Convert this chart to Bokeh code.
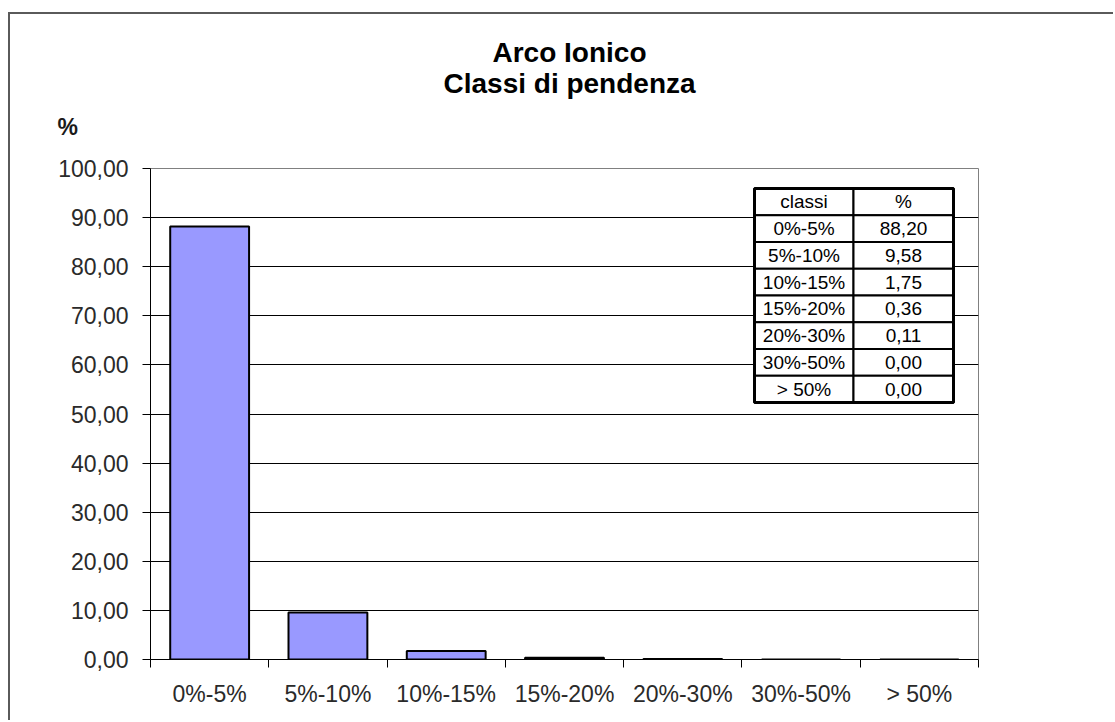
import numpy as np
from bokeh.plotting import figure
from bokeh.models import (Range1d, LinearAxis, FixedTicker, CustomJSTickFormatter,
                          Title, ColumnDataSource, Grid)
from bokeh.core.properties import value
from bokeh.embed import file_html
from bokeh.resources import INLINE

# ---- data ----
classes = ["0%-5%", "5%-10%", "10%-15%", "15%-20%", "20%-30%", "30%-50%", "> 50%"]
percent = [88.20, 9.58, 1.75, 0.36, 0.11, 0.00, 0.00]
title_lines = ["Arco Ionico", "Classi di pendenza"]
y_label = "%"
y_ticks = list(range(0, 101, 10))
table_header = ["classi", "%"]

FONT = "Liberation Sans"

WIN_W, WIN_H = 1115, 722
OX, OY = 10, 14                        # figure offset inside window
W, H = WIN_W - OX, WIN_H - OY
FL, FR, FT, FB = 150 - OX, 978 - OX, 168 - OY, 659 - OY   # frame edges in figure px
fw, fh = FR - FL, FB - FT

p = figure(width=W, height=H, output_backend="svg", toolbar_location=None,
           x_range=Range1d(0, len(classes)), y_range=Range1d(0, 100),
           min_border_left=FL, min_border_right=W - FR,
           min_border_top=FT, min_border_bottom=H - FB,
           x_axis_type=None, y_axis_type=None)
p.margin = (OY, 0, 0, OX)
p.styles = {"box-shadow": "-2px -2px 0px 0px #5a5a5a"}
p.background_fill_color = "white"
p.border_fill_color = "white"
p.outline_line_color = "#808080"
p.outline_line_width = 1

# pixel ranges for the inset table
p.extra_x_ranges = {"px": Range1d(0, fw)}
p.extra_y_ranges = {"py": Range1d(0, fh)}

# ---- axes ----
yax = LinearAxis(ticker=FixedTicker(ticks=y_ticks, minor_ticks=[]))
yax.formatter = CustomJSTickFormatter(code="return tick.toFixed(2).replace('.', ',');")
yax.axis_line_color = "black"
yax.major_tick_line_color = "black"
yax.major_tick_out = 8
yax.major_tick_in = 0
yax.minor_tick_line_color = None
yax.major_label_text_font = FONT
yax.major_label_text_font_size = "23px"
yax.major_label_text_color = "#2a2a2a"
yax.major_label_standoff = 14
p.add_layout(yax, "left")

centers = [i + 0.5 for i in range(len(classes))]
bounds = list(range(len(classes) + 1))
xax = LinearAxis(ticker=FixedTicker(ticks=centers, minor_ticks=bounds))
xax.major_label_overrides = {c: lab for c, lab in zip(centers, classes)}
xax.axis_line_color = "black"
xax.major_tick_line_color = None
xax.major_tick_out = 0
xax.major_tick_in = 0
xax.minor_tick_line_color = "black"
xax.minor_tick_out = 8
xax.minor_tick_in = 0
xax.major_label_text_font = FONT
xax.major_label_text_font_size = "23px"
xax.major_label_text_color = "#2a2a2a"
xax.major_label_standoff = 13
p.add_layout(xax, "below")

p.ygrid.grid_line_color = None
grid = Grid(dimension=1, ticker=FixedTicker(ticks=y_ticks[1:-1]))
grid.grid_line_color = "black"
grid.grid_line_width = 1
p.add_layout(grid)

# ---- bars ----
src = ColumnDataSource(dict(x=centers, top=percent))
p.vbar(x="x", top="top", bottom=0, width=2 / 3, source=src,
       fill_color="#9999FF", line_color="black", line_width=2)

# ---- inset table (frame pixel coordinates) ----
tl, tr, tm = 754 - 150, 953 - 150, 853 - 150
ttop, tbot = 659 - 188, 659 - 402
nrows = len(classes) + 1
rh = (ttop - tbot) / nrows
row_top = [ttop - i * rh for i in range(nrows)]
row_bot = [t - rh for t in row_top]
p.quad(left=[tl, tm] * nrows, right=[tm, tr] * nrows,
       top=[t for t in row_top for _ in (0, 1)],
       bottom=[b for b in row_bot for _ in (0, 1)],
       x_range_name="px", y_range_name="py",
       fill_color="white", line_color="black", line_width=2)
p.quad(left=[tl], right=[tr], top=[ttop], bottom=[tbot],
       x_range_name="px", y_range_name="py",
       fill_color=None, line_color="black", line_width=3)
col1 = [table_header[0]] + classes
col2 = [table_header[1]] + [f"{v:.2f}".replace(".", ",") for v in percent]
ymid = [t - rh / 2 for t in row_top]
p.text(x=[(tl + tm) / 2] * nrows + [(tm + tr) / 2] * nrows, y=ymid + ymid,
       text=col1 + col2, x_range_name="px", y_range_name="py",
       text_font=value(FONT), text_font_size="19px", text_color="black",
       text_align="center", text_baseline="middle")

# ---- titles (stacked outward from the frame) ----
p.add_layout(Title(text=y_label, align="left", offset=57 - 150, vertical_align="top",
                   text_font=FONT, text_font_size="23px", text_font_style="bold",
                   text_color="#1a1a1a", standoff=54), "above")
p.add_layout(Title(text=title_lines[1], align="left", offset=443 - 150, vertical_align="top",
                   text_font=FONT, text_font_size="28px", text_font_style="bold",
                   text_color="black", standoff=-29), "above")
p.add_layout(Title(text=title_lines[0], align="left", offset=492 - 150, vertical_align="top",
                   text_font=FONT, text_font_size="28px", text_font_style="bold",
                   text_color="black", standoff=25), "above")

open("out.html", "w").write(file_html(p, INLINE))
